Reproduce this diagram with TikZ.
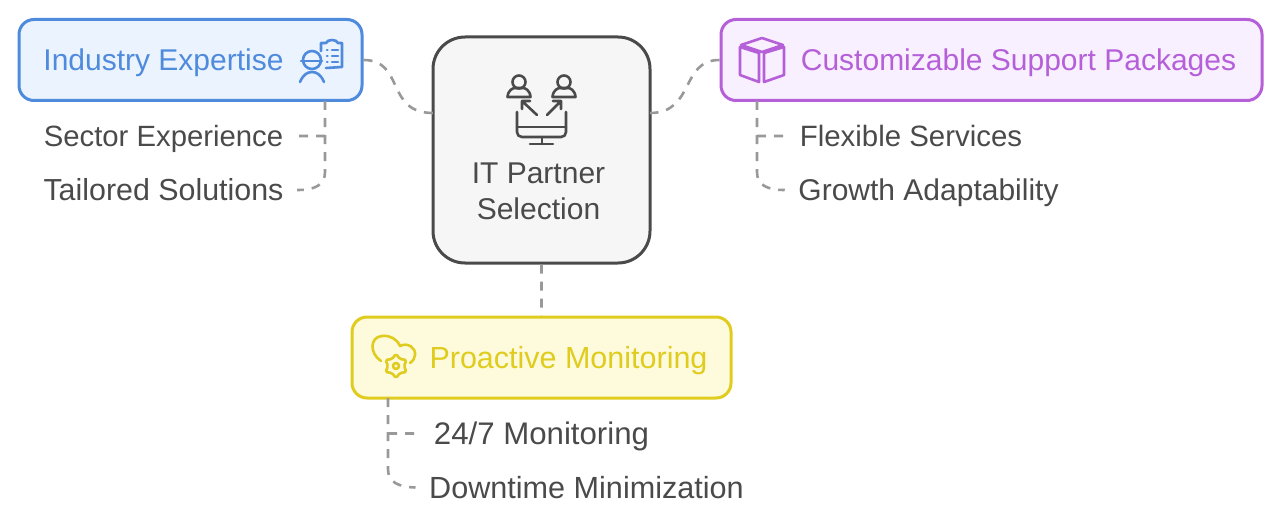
\documentclass[tikz,border=0pt]{standalone}
\usepackage{fontspec}
\setmainfont{Liberation Sans}
\usetikzlibrary{positioning}
\definecolor{inkgrey}{HTML}{4A4A4A}
\definecolor{dashgrey}{HTML}{999999}
\definecolor{blueline}{HTML}{4F8BDD}
\definecolor{bluefill}{HTML}{EBF3FE}
\definecolor{purpleline}{HTML}{B55FD9}
\definecolor{purplefill}{HTML}{F8F0FE}
\definecolor{yellowline}{HTML}{E0CC1E}
\definecolor{yellowfill}{HTML}{FEFADC}
\definecolor{mainfill}{HTML}{F6F6F6}
\tikzset{
  textsize/.style={font=\fontsize{#1}{#1}\selectfont},
  topicbox/.style={draw,line width=3pt,rounded corners=15pt,inner sep=0pt,minimum height=81pt},
  toptext/.style={inner sep=0pt,text height=21.5pt,text depth=0pt,textsize=#1},
  toptext/.default=30,
  sublabel/.style={inner ysep=0pt,inner xsep=13.5pt,text=inkgrey,text height=21.5pt,text depth=0pt,textsize=#1},
  sublabel/.default=30,
  dashline/.style={draw=dashgrey,line width=2.6pt,dash pattern=on 9pt off 8pt},
  iconline/.style={line width=2.6pt,line cap=round,line join=round}
}
\begin{document}
\begin{tikzpicture}[x=1pt,y=-1pt,node distance=100pt,on grid]
    \useasboundingbox (0,0) rectangle (1281,524);
    \node[draw=inkgrey,fill=mainfill,line width=3pt,rounded corners=32pt,minimum width=217pt,minimum height=226pt] (main) at (541.5,150) {};
    \node[text=inkgrey,align=center,font=\fontsize{30}{36}\selectfont] (maintext) at (538.5,191) {IT Partner\\Selection};
    \node[topicbox,draw=blueline,fill=bluefill,minimum width=343pt] (industry) [above left=90pt and 351pt of main] {};
    \node[topicbox,draw=purpleline,fill=purplefill,minimum width=541pt] (custom) [above right=90pt and 450pt of main] {};
    \node[topicbox,draw=yellowline,fill=yellowfill,minimum width=379pt] (proactive) [below=207.5pt of main] {};
    % box titles
    \node[toptext,text=blueline] (industrytext) [left=27pt of industry] {Industry Expertise};
    \node[toptext,text=purpleline] (customtext) [right=27pt of custom] {Customizable Support Packages};
    \node[toptext=30.5,text=yellowline] (proactivetext) [right=27pt of proactive] {Proactive Monitoring};
    % items
    \node[sublabel=29.3] (sector) [below left=76pt and 27pt of industry] {Sector Experience};
    \node[sublabel=30.4] (tailored) [below=54pt of sector] {Tailored Solutions};
    \node[sublabel=29.4] (flexible) [below left=76pt and 80.5pt of custom] {Flexible Services};
    \node[sublabel] (growth) [below left=130pt and 63pt of custom] {Growth Adaptability};
    \node[sublabel=31.2] (monitoring) [below right=76pt and 0pt of proactive] {24/7 Monitoring};
    \node[sublabel=30.6] (downtime) [below right=130pt and 45pt of proactive] {Downtime Minimization};
    % connector ends
    \coordinate (mainleft) at (433,113);
    \coordinate (mainright) at (650,113);
    \coordinate (industryfoot) at (325,101);
    \coordinate (customfoot) at (757,101);
    \coordinate (proactivefoot) at (388,398);
    \path[dashline]
      (industry.east) .. controls (405,60) and (385,113) .. (mainleft)
      (custom.west) .. controls (680,60) and (695,113) .. (mainright)
      (main.south) -- (proactive.north)
      (industryfoot) -- (325,172) .. controls (325,185) and (315,190) .. (tailored.east)
      (industryfoot |- sector) -- (sector.east)
      (customfoot) -- (757,172) .. controls (757,185) and (767,190) .. (growth.west)
      (customfoot |- flexible) -- (flexible.west)
      (proactivefoot) -- (388,469) .. controls (388,482) and (398,487) .. (downtime.west)
      (proactivefoot |- monitoring) -- (monitoring.west);
    % main icon
    \begin{scope}[iconline,draw=inkgrey]
      \foreach \px in {519,564} {
        \draw (\px,82) circle (6.5);
        \draw (\px-11.5,97) .. controls (\px-11,90) and (\px-6,88) .. (\px-4,88) -- (\px+4,88) .. controls (\px+6,88) and (\px+11,90) .. (\px+11.5,97) -- cycle;
      }
      \draw (537,115) -- (522,101) (522,109) -- (522,101) -- (530,101);
      \draw (547,115) -- (561,101) (553,101) -- (561,101) -- (561,109);
      \draw (517,112) -- (517,132) .. controls (517,135) and (519,137) .. (522,137) -- (561,137) .. controls (564,137) and (566,135) .. (566,132) -- (566,112);
      \draw (517,127) -- (566,127);
      \draw (542,137) -- (542,144) (530,144) -- (553,144);
    \end{scope}
    % worker and clipboard
    \begin{scope}[iconline,draw=blueline]
      \draw (312,60) circle (9);
      \draw (301,61) -- (322,61);
      \draw (300,82) .. controls (303,75) and (307,72) .. (312,72) .. controls (317,72) and (321,75) .. (324,82);
      \draw (321,51) -- (321,43) -- (326,43) .. controls (327,39) and (337,39) .. (338,43) -- (342,43) -- (342,67) -- (326,68);
      \foreach \ly in {50,56,62} { \draw (327,\ly) -- (327.5,\ly) (332,\ly) -- (338,\ly); }
    \end{scope}
    % cube
    \begin{scope}[iconline,draw=purpleline]
      \draw (762,38) -- (783,45) -- (762,52) -- (741,45) -- cycle;
      \draw (740,47) -- (740,75) -- (759,82) -- (759,53) -- cycle;
      \draw (764,53) -- (764,82) -- (784,75) -- (784,47) -- cycle;
    \end{scope}
    % cloud and gear
    \begin{scope}[iconline,draw=yellowline]
      \draw (381,361) .. controls (369,353) and (370,337) .. (382,336) .. controls (390,335) and (397,339) .. (400,346) .. controls (408,342) and (416,348) .. (415,355) .. controls (415,358) and (413,361) .. (410,363);
      \draw (396,366) circle (3);
      \draw[rounded corners=1.5pt] (396,354) -- (400,359) -- (406.4,360) -- (404,366) -- (406.4,372) -- (400,373) -- (396,378) -- (392,373) -- (385.6,372) -- (388,366) -- (385.6,360) -- (392,359) -- cycle;
    \end{scope}
  \end{tikzpicture}
\end{document}
